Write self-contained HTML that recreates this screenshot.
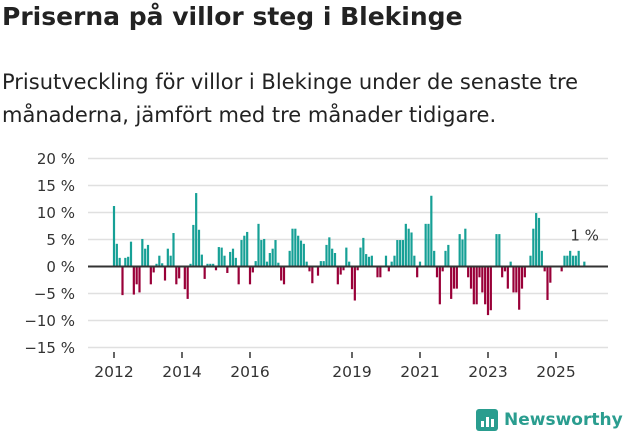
<!DOCTYPE html>
<html><head><meta charset="utf-8">
<style>
body{margin:0;background:#fff;width:631px;height:439px;overflow:hidden;font-family:"DejaVu Sans","Liberation Sans",sans-serif;}
#title{position:absolute;left:2px;top:2px;font-size:25px;font-weight:bold;color:#222;}
#sub{position:absolute;left:2px;top:66px;font-size:21px;line-height:33px;color:#222;width:600px;}
svg{position:absolute;left:0;top:0;}
</style></head><body>
<div id="title">Priserna på villor steg i Blekinge</div>
<div id="sub">Prisutveckling för villor i Blekinge under de senaste tre månaderna, jämfört med tre månader tidigare.</div>
<svg id="chart" width="631" height="439"></svg>
<script>
const yTicks=[20,15,10,5,0,-5,-10,-15];
const yearLabels=[2012,2014,2016,2019,2021,2023,2025];
const startYear=2012;
const values=[11.2,4.2,1.6,-5.3,1.6,1.8,4.6,-5.2,-3.3,-4.8,5.1,3.3,4.0,-3.3,-1.1,0.5,2.0,0.6,-2.6,3.3,2.0,6.2,-3.3,-2.2,0,-4.2,-6.0,0.5,7.7,13.6,6.8,2.2,-2.3,0.5,0.5,0.5,-0.7,3.6,3.5,
2.0,-1.2,2.7,3.3,1.6,-3.3,4.9,5.7,6.4,-3.3,-1.1,1.0,7.9,4.9,5.1,0.9,2.5,3.3,4.9,0.7,-2.6,-3.3,0,2.9,7.0,7.0,5.7,4.8,4.2,0.9,-0.9,-3.1,0,-1.7,1.0,1.0,4.0,5.4,3.3,2.5,-3.3,-1.5,-0.7,
3.5,0.9,-4.2,-6.3,-0.7,3.5,5.3,2.3,1.8,2.0,0,-2.0,-2.0,0,2.0,-0.9,0.9,2.0,4.9,4.9,4.9,7.9,7.0,6.3,2.0,-2.0,0.9,0,7.9,7.9,13.1,2.9,-2.0,-7.0,-0.9,2.9,4.0,-6.0,-4.1,-4.1,6.0,
5.0,7.0,-2.0,-4.1,-7.0,-7.0,-2.0,-4.8,-7.0,-9.0,-8.1,0,6.0,6.0,-2.0,-0.9,-4.1,0.9,-4.8,-4.8,-8.0,-4.1,-2.0,0,2.0,7.0,9.9,9.0,2.9,-0.9,-6.2,-3.0,0,0,0,-0.9,2.0,2.0,2.9,2.0,2.0,2.9,0,0.9];
const lastLabel="1 %";
const NS="http://www.w3.org/2000/svg";
const svg=document.getElementById('chart');
const x0=114, pxYear=34, xL=88, xR=608;
const y=v=>266.5-v*5.4;
const xm=m=>x0+m*pxYear/12;
function mk(t,a){const e=document.createElementNS(NS,t);for(const k in a)e.setAttribute(k,a[k]);svg.appendChild(e);return e;}
yTicks.forEach(t=>{
 const g=mk('line',{x1:xL,x2:xR,y1:y(t),y2:y(t),stroke:'#e0e0e0','stroke-width':1.5});
 
 
 const l=mk('text',{x:75,y:y(t)+5.5,'text-anchor':'end','font-size':15,fill:'#333'});
 l.textContent=(t<0?'−'+(-t):t)+' %';
 
 
});
values.forEach((v,i)=>{
 if(v===0)return;
 const r=mk('rect',{x:xm(i)-1.1,width:2.2,y:Math.min(y(v),y(0)),height:Math.abs(y(v)-y(0)),fill:v>0?'#16a096':'#990038'});
 
 
});
const z=mk('line',{x1:xL,x2:xR,y1:y(0),y2:y(0),stroke:'#333','stroke-width':2});


yearLabels.forEach(yr=>{
 const xx=x0+(yr-startYear)*pxYear;
 const t=mk('line',{x1:xx,x2:xx,y1:352,y2:358,stroke:'#333','stroke-width':1.5});
 
 
 const l=mk('text',{x:xx,y:377,'text-anchor':'middle','font-size':15.5,fill:'#333'});
 l.textContent=yr;
 
 
});
const li=values.length-1;
const lab=mk('text',{x:xm(li)-14,y:y(values[li])-21,'font-size':15,fill:'#333'});
lab.textContent=lastLabel;


</script>
<div style="position:absolute;left:476px;top:409px;display:flex;align-items:center;">
 <div style="width:22px;height:22px;background:#2a9d8f;border-radius:3px;position:relative;">
  <div style="position:absolute;left:5px;bottom:4px;width:3px;height:6px;background:#fff"></div>
  <div style="position:absolute;left:10px;bottom:4px;width:3px;height:10px;background:#fff"></div>
  <div style="position:absolute;left:15px;bottom:4px;width:3px;height:8px;background:#fff"></div>
 </div>
 <span style="margin-left:6px;font-size:17px;font-weight:bold;color:#2a9d8f;">Newsworthy</span>
</div>
</body></html>
